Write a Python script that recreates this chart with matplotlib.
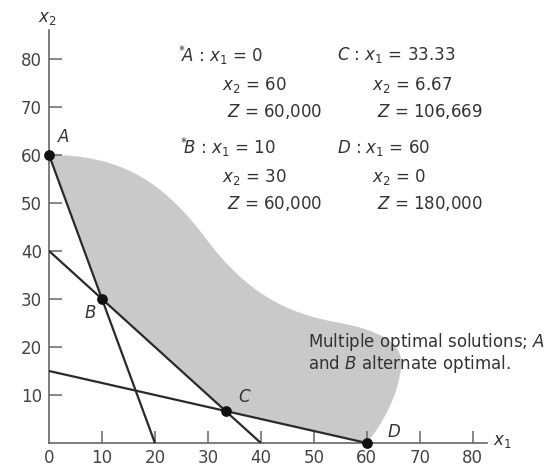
import matplotlib
matplotlib.use("Agg")
import matplotlib.pyplot as plt
from matplotlib.path import Path
from matplotlib.patches import PathPatch

plt.rcParams['font.family'] = ['DejaVu Sans']
plt.rcParams['mathtext.fontset'] = 'dejavusans'

# Constraint lines (endpoints on axes)
line1_x = [0, 20]; line1_y = [60, 0]
line2_x = [0, 40]; line2_y = [40, 0]
line3_x = [0, 60]; line3_y = [15, 0]

# Corner points
pt_names = ['A', 'B', 'C', 'D']
pt_x = [0, 10, 33.33, 60]
pt_y = [60, 30, 6.67, 0]

# Curved upper boundary of the shaded region (Bezier vertices)
curve_x = [0, 14, 22, 30, 37, 44, 55, 62, 67, 66.5, 66, 63, 60]
curve_y = [60, 60, 54, 42, 32, 27, 25, 23.5, 21, 16, 10, 4, 0]

xticks = [0, 10, 20, 30, 40, 50, 60, 70, 80]
yticks = [10, 20, 30, 40, 50, 60, 70, 80]

fig = plt.figure(figsize=(5.49, 4.67), dpi=100)
ax = fig.add_axes([49/549, 24/467, (487-49)/549, (437-24)/467])
ax.set_xlim(0, 82.7)
ax.set_ylim(0, 86)

# shaded region
verts = list(zip(curve_x, curve_y)) + [(pt_x[2], pt_y[2]), (pt_x[1], pt_y[1]), (pt_x[0], pt_y[0])]
codes = [Path.MOVETO] + [Path.CURVE4] * 12 + [Path.LINETO, Path.LINETO, Path.CLOSEPOLY]
patch = PathPatch(Path(verts, codes), facecolor='#c9c9c9', edgecolor='none', zorder=1)
ax.add_patch(patch)

lc = '#2a2a2a'
for lx, ly in [(line1_x, line1_y), (line2_x, line2_y), (line3_x, line3_y)]:
    ax.plot(lx, ly, color=lc, lw=1.6, zorder=3, solid_capstyle='butt')

ax.scatter(pt_x, pt_y, s=45, color='#111111', zorder=5, clip_on=False)

# spines / ticks
for s in ['top', 'right']:
    ax.spines[s].set_visible(False)
for s in ['left', 'bottom']:
    ax.spines[s].set_color('#666666')
    ax.spines[s].set_linewidth(1.2)
ax.set_xticks(xticks)
ax.set_yticks(yticks)
ax.set_xticklabels([str(v) for v in xticks])
ax.set_yticklabels([str(v) for v in yticks])
ax.tick_params(axis='y', direction='in', length=9, width=1.1, color='#666666',
               labelsize=12, labelcolor='#444444', pad=5)
ax.tick_params(axis='x', direction='in', length=9, width=1.1, color='#666666',
               labelsize=12, labelcolor='#444444', pad=4)
ax.xaxis.get_major_ticks()[0].tick1line.set_visible(False)

tc = '#333333'
fs = 12
ax.text(-0.4, 88.5, r'$x_2$', fontsize=fs, color=tc, ha='center', va='center', clip_on=False)
ax.text(85.5, 0.5, r'$x_1$', fontsize=fs, color=tc, ha='center', va='center', clip_on=False)

# point labels
lab_x = [1.7, 6.8, 35.7, 64.0]
lab_y = [63.8, 27.1, 9.6, 2.3]
for n, x, y in zip(pt_names, lab_x, lab_y):
    ax.text(x, y, n, fontsize=fs, style='italic', color=tc, ha='left', va='center')

# solution text block
rows = [
    (24.3, 80.8, r'$^{*}\!A$ : $x_1$ = 0'),
    (32.6, 74.6, r'$x_2$ = 60'),
    (33.6, 69.0, r'$Z$ = 60,000'),
    (24.8, 61.5, r'$^{*}\!B$ : $x_1$ = 10'),
    (32.6, 55.4, r'$x_2$ = 30'),
    (33.6, 49.8, r'$Z$ = 60,000'),
    (54.3, 80.8, r'$C$ : $x_1$ = 33.33'),
    (60.9, 74.6, r'$x_2$ = 6.67'),
    (61.9, 69.0, r'$Z$ = 106,669'),
    (54.3, 61.5, r'$D$ : $x_1$ = 60'),
    (60.9, 55.4, r'$x_2$ = 0'),
    (61.9, 49.8, r'$Z$ = 180,000'),
]
for x, y, t in rows:
    ax.text(x, y, t, fontsize=fs, color=tc, ha='left', va='center')

ax.text(48.9, 21.1, r'Multiple optimal solutions; $A$', fontsize=12, color=tc,
        ha='left', va='center', clip_on=False)
ax.text(48.9, 16.5, r'and $B$ alternate optimal.', fontsize=12, color=tc,
        ha='left', va='center')

fig.savefig('out.png', dpi=100)
